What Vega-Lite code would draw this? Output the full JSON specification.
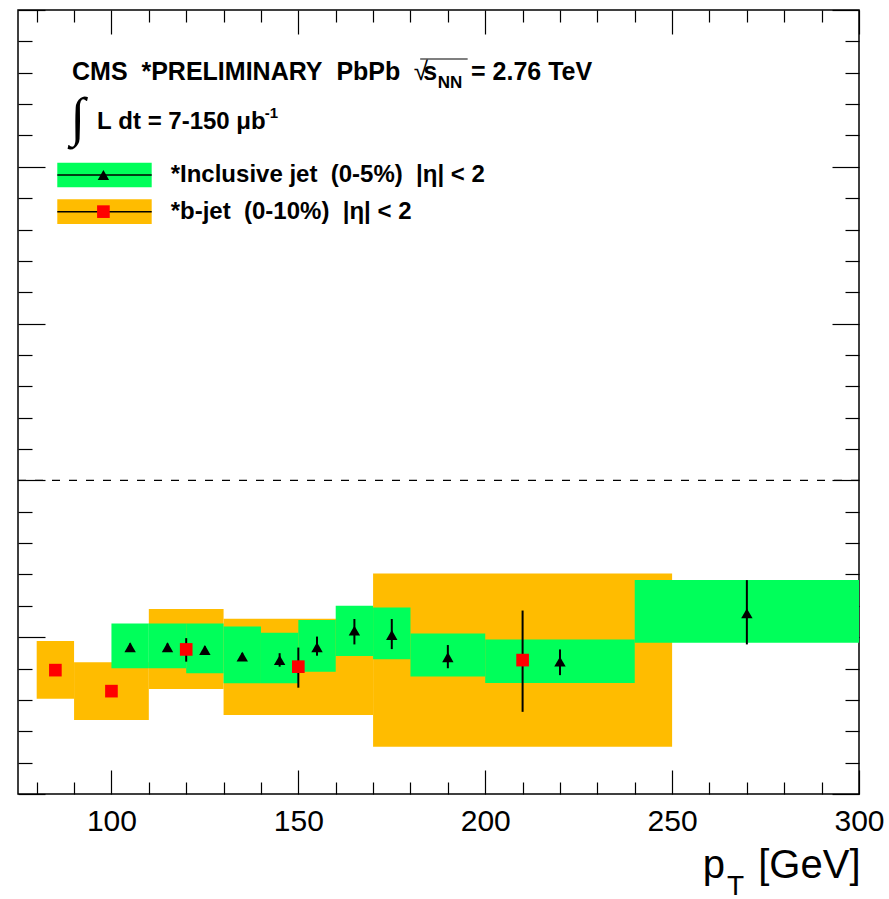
{
  "$schema": "https://vega.github.io/schema/vega-lite/v6.json",
  "width": 841,
  "height": 784,
  "autosize": {"type": "none"},
  "padding": {"left": 18, "top": 10, "right": 30, "bottom": 105},
  "background": "white",
  "config": {
    "view": {"stroke": "black", "strokeWidth": 1.5},
    "axis": {"domain": false, "grid": false, "tickColor": "black", "tickWidth": 1.2, "labels": false}
  },
  "resolve": {"axis": {"x": "independent", "y": "independent"}},
  "datasets": {
    "boxes": [
      {"sample": "b-jet", "lo": 80, "hi": 90, "ylo": 0.304, "yhi": 0.488},
      {"sample": "b-jet", "lo": 90, "hi": 110, "ylo": 0.236, "yhi": 0.420},
      {"sample": "b-jet", "lo": 110, "hi": 130, "ylo": 0.335, "yhi": 0.590},
      {"sample": "b-jet", "lo": 130, "hi": 170, "ylo": 0.252, "yhi": 0.559},
      {"sample": "b-jet", "lo": 170, "hi": 250, "ylo": 0.151, "yhi": 0.703},
      {"sample": "inclusive", "lo": 100, "hi": 110, "ylo": 0.401, "yhi": 0.544},
      {"sample": "inclusive", "lo": 110, "hi": 120, "ylo": 0.401, "yhi": 0.544},
      {"sample": "inclusive", "lo": 120, "hi": 130, "ylo": 0.385, "yhi": 0.544},
      {"sample": "inclusive", "lo": 130, "hi": 140, "ylo": 0.353, "yhi": 0.534},
      {"sample": "inclusive", "lo": 140, "hi": 150, "ylo": 0.353, "yhi": 0.514},
      {"sample": "inclusive", "lo": 150, "hi": 160, "ylo": 0.390, "yhi": 0.555},
      {"sample": "inclusive", "lo": 160, "hi": 170, "ylo": 0.440, "yhi": 0.600},
      {"sample": "inclusive", "lo": 170, "hi": 180, "ylo": 0.430, "yhi": 0.595},
      {"sample": "inclusive", "lo": 180, "hi": 200, "ylo": 0.375, "yhi": 0.512},
      {"sample": "inclusive", "lo": 200, "hi": 240, "ylo": 0.354, "yhi": 0.493},
      {"sample": "inclusive", "lo": 240, "hi": 300, "ylo": 0.482, "yhi": 0.682}
    ],
    "points": [
      {"sample": "b-jet", "pt": 85, "raa": 0.395, "elo": 0.380, "ehi": 0.410},
      {"sample": "b-jet", "pt": 100, "raa": 0.328, "elo": 0.313, "ehi": 0.343},
      {"sample": "b-jet", "pt": 120, "raa": 0.461, "elo": 0.422, "ehi": 0.497},
      {"sample": "b-jet", "pt": 150, "raa": 0.406, "elo": 0.339, "ehi": 0.467},
      {"sample": "b-jet", "pt": 210, "raa": 0.427, "elo": 0.262, "ehi": 0.585},
      {"sample": "inclusive", "pt": 105, "raa": 0.468, "elo": 0.456, "ehi": 0.480},
      {"sample": "inclusive", "pt": 115, "raa": 0.468, "elo": 0.456, "ehi": 0.480},
      {"sample": "inclusive", "pt": 125, "raa": 0.459, "elo": 0.447, "ehi": 0.471},
      {"sample": "inclusive", "pt": 135, "raa": 0.438, "elo": 0.426, "ehi": 0.450},
      {"sample": "inclusive", "pt": 145, "raa": 0.427, "elo": 0.406, "ehi": 0.449},
      {"sample": "inclusive", "pt": 155, "raa": 0.468, "elo": 0.441, "ehi": 0.502},
      {"sample": "inclusive", "pt": 165, "raa": 0.521, "elo": 0.477, "ehi": 0.558},
      {"sample": "inclusive", "pt": 175, "raa": 0.507, "elo": 0.462, "ehi": 0.558},
      {"sample": "inclusive", "pt": 190, "raa": 0.436, "elo": 0.401, "ehi": 0.475},
      {"sample": "inclusive", "pt": 220, "raa": 0.422, "elo": 0.379, "ehi": 0.461},
      {"sample": "inclusive", "pt": 270, "raa": 0.576, "elo": 0.477, "ehi": 0.682}
    ]
  },
  "layer": [
    {
      "data": {"name": "boxes"},
      "mark": {"type": "rect", "strokeWidth": 0},
      "encoding": {
        "x": {"field": "lo", "type": "quantitative", "scale": {"domain": [75, 300], "nice": false, "zero": false},
          "axis": {"orient": "bottom", "values": [100, 150, 200, 250, 300], "tickSize": -24, "labels": true, "format": "d",
            "labelFont": "Liberation Sans", "labelFontSize": 30, "labelColor": "black", "labelPadding": 36, "labelFlush": false, "labelOverlap": false,
            "title": "p\u00a0\u00a0\u00a0[GeV]", "titleFont": "Liberation Sans", "titleFontSize": 40, "titleFontWeight": "normal", "titleColor": "black",
            "titleX": 842, "titleY": 83, "titleAlign": "right", "titleBaseline": "alphabetic", "titleAnchor": "end"}},
        "x2": {"field": "hi"},
        "y": {"field": "ylo", "type": "quantitative", "scale": {"domain": [0, 2.5], "nice": false, "zero": false},
          "axis": {"orient": "left", "values": [0, 0.5, 1, 1.5, 2, 2.5], "tickSize": -27, "title": null}},
        "y2": {"field": "yhi"},
        "fill": {"field": "sample", "type": "nominal", "scale": {"domain": ["b-jet", "inclusive"], "range": ["#FFBC00", "#00FF5A"]}, "legend": null}
      }
    },
    {
      "data": {"values": [{}]},
      "mark": {"type": "rule", "color": "black", "strokeWidth": 1.2, "strokeDash": [8, 9]},
      "encoding": {
        "y": {"datum": 1, "type": "quantitative", "axis": null}
      }
    },
    {
      "data": {"name": "points"},
      "mark": {"type": "rule", "color": "black", "strokeWidth": 2},
      "encoding": {
        "x": {"field": "pt", "type": "quantitative",
          "axis": {"orient": "top", "values": [100, 150, 200, 250, 300], "tickSize": -24, "title": null}},
        "y": {"field": "elo", "type": "quantitative",
          "axis": {"orient": "right", "values": [0, 0.5, 1, 1.5, 2, 2.5], "tickSize": -27, "title": null}},
        "y2": {"field": "ehi"}
      }
    },
    {
      "data": {"name": "points"},
      "transform": [{"filter": "datum.sample === 'inclusive'"}],
      "mark": {"type": "point", "shape": "triangle-up", "filled": true, "color": "black", "opacity": 1, "size": 130, "strokeWidth": 0},
      "encoding": {
        "x": {"field": "pt", "type": "quantitative",
          "axis": {"orient": "bottom", "values": [80, 90, 110, 120, 130, 140, 160, 170, 180, 190, 210, 220, 230, 240, 260, 270, 280, 290], "tickSize": -12, "title": null}},
        "y": {"field": "raa", "type": "quantitative",
          "axis": {"orient": "left", "values": [0.1, 0.2, 0.3, 0.4, 0.6, 0.7, 0.8, 0.9, 1.1, 1.2, 1.3, 1.4, 1.6, 1.7, 1.8, 1.9, 2.1, 2.2, 2.3, 2.4], "tickSize": -14, "title": null}}
      }
    },
    {
      "data": {"name": "points"},
      "transform": [{"filter": "datum.sample === 'b-jet'"}],
      "mark": {"type": "point", "shape": "square", "filled": true, "color": "#FF0000", "opacity": 1, "size": 160, "strokeWidth": 0},
      "encoding": {
        "x": {"field": "pt", "type": "quantitative",
          "axis": {"orient": "top", "values": [80, 90, 110, 120, 130, 140, 160, 170, 180, 190, 210, 220, 230, 240, 260, 270, 280, 290], "tickSize": -12, "title": null}},
        "y": {"field": "raa", "type": "quantitative",
          "axis": {"orient": "right", "values": [0.1, 0.2, 0.3, 0.4, 0.6, 0.7, 0.8, 0.9, 1.1, 1.2, 1.3, 1.4, 1.6, 1.7, 1.8, 1.9, 2.1, 2.2, 2.3, 2.4], "tickSize": -14, "title": null}}
      }
    },
    {
      "data": {"values": [{}]},
      "mark": {"type": "rect", "fill": "#00FF5A", "strokeWidth": 0},
      "encoding": {
        "x": {"datum": 85.51, "type": "quantitative", "axis": null}, "x2": {"datum": 110.77},
        "y": {"datum": 1.9346, "type": "quantitative", "axis": null}, "y2": {"datum": 2.0131}
      }
    },
    {
      "data": {"values": [{}]},
      "mark": {"type": "rect", "fill": "#FFBC00", "strokeWidth": 0},
      "encoding": {
        "x": {"datum": 85.51, "type": "quantitative", "axis": null}, "x2": {"datum": 110.77},
        "y": {"datum": 1.8176, "type": "quantitative", "axis": null}, "y2": {"datum": 1.8963}
      }
    },
    {
      "data": {"values": [{}]},
      "mark": {"type": "rule", "color": "black", "strokeWidth": 1.5},
      "encoding": {
        "x": {"datum": 85.51, "type": "quantitative", "axis": null}, "x2": {"datum": 110.77},
        "y": {"datum": 1.9739, "type": "quantitative", "axis": null}
      }
    },
    {
      "data": {"values": [{}]},
      "mark": {"type": "rule", "color": "black", "strokeWidth": 1.5},
      "encoding": {
        "x": {"datum": 85.51, "type": "quantitative", "axis": null}, "x2": {"datum": 110.77},
        "y": {"datum": 1.857, "type": "quantitative", "axis": null}
      }
    },
    {
      "data": {"values": [{}]},
      "mark": {"type": "point", "shape": "triangle-up", "filled": true, "color": "black", "opacity": 1, "size": 130, "strokeWidth": 0},
      "encoding": {
        "x": {"datum": 97.85, "type": "quantitative", "axis": null},
        "y": {"datum": 1.9739, "type": "quantitative", "axis": null}
      }
    },
    {
      "data": {"values": [{}]},
      "mark": {"type": "point", "shape": "square", "filled": true, "color": "#FF0000", "opacity": 1, "size": 160, "strokeWidth": 0},
      "encoding": {
        "x": {"datum": 97.85, "type": "quantitative", "axis": null},
        "y": {"datum": 1.857, "type": "quantitative", "axis": null}
      }
    },
    {
      "data": {"values": [{}]},
      "mark": {"type": "text", "align": "left", "baseline": "middle", "font": "Liberation Sans", "fontWeight": "bold", "fontSize": 24, "color": "black"},
      "encoding": {
        "x": {"datum": 115.85, "type": "quantitative", "axis": null},
        "y": {"datum": 1.9739, "type": "quantitative", "axis": null},
        "text": {"value": "*Inclusive jet\u00a0\u00a0(0-5%)\u00a0\u00a0|η|\u00a0<\u00a02"}
      }
    },
    {
      "data": {"values": [{}]},
      "mark": {"type": "text", "align": "left", "baseline": "middle", "font": "Liberation Sans", "fontWeight": "bold", "fontSize": 24, "color": "black"},
      "encoding": {
        "x": {"datum": 115.85, "type": "quantitative", "axis": null},
        "y": {"datum": 1.857, "type": "quantitative", "axis": null},
        "text": {"value": "*b-jet\u00a0\u00a0(0-10%)\u00a0\u00a0|η|\u00a0<\u00a02"}
      }
    },
    {
      "data": {"values": [{}]},
      "mark": {"type": "text", "align": "left", "baseline": "alphabetic", "font": "Liberation Sans", "fontWeight": "bold", "fontSize": 25, "color": "black"},
      "encoding": {
        "x": {"datum": 89.45, "type": "quantitative", "axis": null},
        "y": {"datum": 2.2768, "type": "quantitative", "axis": null},
        "text": {"value": "CMS\u00a0\u00a0*PRELIMINARY\u00a0\u00a0PbPb"}
      }
    },
    {
      "data": {"values": [{}]},
      "mark": {"type": "text", "align": "left", "baseline": "alphabetic", "font": "Liberation Sans", "fontWeight": "normal", "fontSize": 26, "color": "black"},
      "encoding": {
        "x": {"datum": 180.9, "type": "quantitative", "axis": null},
        "y": {"datum": 2.2768, "type": "quantitative", "axis": null},
        "text": {"value": "√"}
      }
    },
    {
      "data": {"values": [{}]},
      "mark": {"type": "text", "align": "left", "baseline": "alphabetic", "font": "Liberation Sans", "fontWeight": "bold", "fontSize": 25, "color": "black"},
      "encoding": {
        "x": {"datum": 183.45, "type": "quantitative", "axis": null},
        "y": {"datum": 2.2768, "type": "quantitative", "axis": null},
        "text": {"value": "s"}
      }
    },
    {
      "data": {"values": [{}]},
      "mark": {"type": "text", "align": "left", "baseline": "alphabetic", "font": "Liberation Sans", "fontWeight": "bold", "fontSize": 17, "color": "black"},
      "encoding": {
        "x": {"datum": 187.3, "type": "quantitative", "axis": null},
        "y": {"datum": 2.2513, "type": "quantitative", "axis": null},
        "text": {"value": "NN"}
      }
    },
    {
      "data": {"values": [{}]},
      "mark": {"type": "rule", "color": "black", "strokeWidth": 1.2},
      "encoding": {
        "x": {"datum": 182.6, "type": "quantitative", "axis": null}, "x2": {"datum": 195.3},
        "y": {"datum": 2.3438, "type": "quantitative", "axis": null}
      }
    },
    {
      "data": {"values": [{}]},
      "mark": {"type": "text", "align": "left", "baseline": "alphabetic", "font": "Liberation Sans", "fontWeight": "bold", "fontSize": 25, "color": "black"},
      "encoding": {
        "x": {"datum": 196.2, "type": "quantitative", "axis": null},
        "y": {"datum": 2.2768, "type": "quantitative", "axis": null},
        "text": {"value": "=\u00a02.76\u00a0TeV"}
      }
    },
    {
      "data": {"values": [{}]},
      "mark": {"type": "text", "align": "center", "baseline": "alphabetic", "font": "Liberation Serif", "fontWeight": "normal", "fontSize": 54, "color": "black"},
      "encoding": {
        "x": {"datum": 91.0, "type": "quantitative", "axis": null},
        "y": {"datum": 2.1014, "type": "quantitative", "axis": null},
        "text": {"value": "∫"}
      }
    },
    {
      "data": {"values": [{}]},
      "mark": {"type": "text", "align": "left", "baseline": "alphabetic", "font": "Liberation Sans", "fontWeight": "bold", "fontSize": 24, "color": "black"},
      "encoding": {
        "x": {"datum": 96.13, "type": "quantitative", "axis": null},
        "y": {"datum": 2.1205, "type": "quantitative", "axis": null},
        "text": {"value": "L\u00a0dt\u00a0=\u00a07-150\u00a0μb"}
      }
    },
    {
      "data": {"values": [{}]},
      "mark": {"type": "text", "align": "left", "baseline": "alphabetic", "font": "Liberation Sans", "fontWeight": "bold", "fontSize": 15, "color": "black"},
      "encoding": {
        "x": {"datum": 141.0, "type": "quantitative", "axis": null},
        "y": {"datum": 2.1556, "type": "quantitative", "axis": null},
        "text": {"value": "-1"}
      }
    },
    {
      "data": {"values": [{}]},
      "mark": {"type": "text", "align": "left", "baseline": "alphabetic", "font": "Liberation Sans", "fontWeight": "normal", "fontSize": 28, "color": "black"},
      "encoding": {
        "x": {"datum": 264.7, "type": "quantitative", "axis": null},
        "y": {"datum": -0.322, "type": "quantitative", "axis": null},
        "text": {"value": "T"}
      }
    }
  ]
}
